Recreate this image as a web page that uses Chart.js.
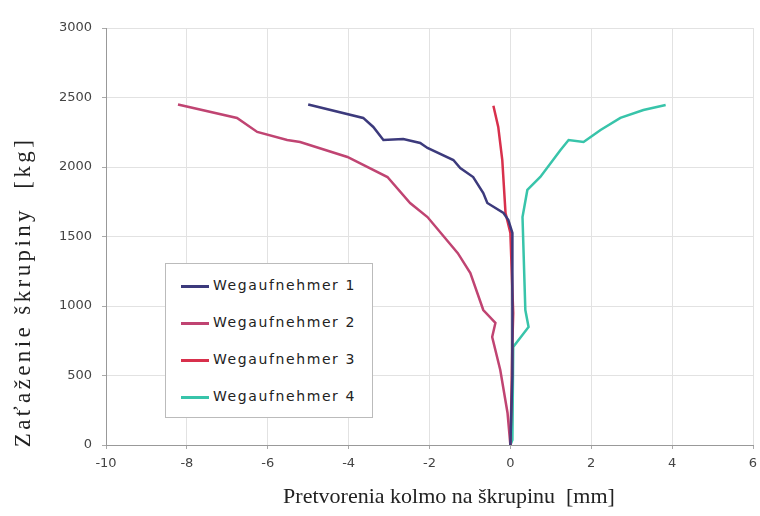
<!DOCTYPE html>
<html>
<head>
<meta charset="utf-8">
<script src="https://cdn.jsdelivr.net/npm/chart.js@4.4.0/dist/chart.umd.min.js"></script>
<style>
  body { margin: 0; background: #fff; }
  #wrap { position: relative; width: 760px; height: 516px; }
  #legend {
    position: absolute; left: 165px; top: 263px; width: 208px; height: 155px;
    background: #fff; border: 1px solid #bbb; box-sizing: border-box;
    font-family: "DejaVu Sans", sans-serif; font-size: 14px; letter-spacing: 1.6px; color: #222;
    padding-top: 13px;
  }
  .item { height: 37px; display: flex; align-items: flex-start; padding-left: 15px; }
  .swatch { width: 28px; height: 3px; margin-top: 8px; margin-right: 4px; }
</style>
</head>
<body>
<div id="wrap">
  <canvas id="chart" width="760" height="516"></canvas>
  <div id="legend"></div>
</div>
<script>
// Wegaufnehmer 1
const s1x = [0, 0.05, 0.05, 0.05, -0.05, -0.17, -0.57, -0.67, -0.92, -1.24, -1.41, -2.05, -2.23, -2.65, -3.14, -3.39, -3.64, -5.0];
const s1y = [0, 500, 1000, 1525, 1619, 1669, 1741, 1813, 1928, 1993, 2050, 2137, 2173, 2201, 2194, 2288, 2353, 2450];
// Wegaufnehmer 2
const s2x = [0, -0.07, -0.25, -0.45, -0.37, -0.67, -0.99, -1.3, -2.05, -2.48, -3.04, -4.03, -5.2, -5.52, -6.26, -6.76, -8.22];
const s2y = [0, 230, 540, 777, 878, 971, 1237, 1380, 1640, 1741, 1928, 2072, 2180, 2194, 2252, 2353, 2450];
// Wegaufnehmer 3
const s3x = [0, 0.03, 0.05, 0.07, 0, -0.12, -0.2, -0.3, -0.42];
const s3y = [0, 400, 734, 950, 1525, 1669, 2050, 2288, 2440];
// Wegaufnehmer 4
const s4x = [0, 0.05, 0.07, 0.45, 0.37, 0.3, 0.42, 0.74, 1.24, 1.44, 1.81, 2.23, 2.72, 3.29, 3.84];
const s4y = [0, 36, 705, 849, 971, 1640, 1835, 1928, 2122, 2194, 2180, 2266, 2353, 2410, 2446];

const names = ['Wegaufnehmer 1', 'Wegaufnehmer 2', 'Wegaufnehmer 3', 'Wegaufnehmer 4'];
const colors = ['#3c3a7c', '#c04472', '#d8304c', '#38c4aa'];
const xTicks = [-10, -8, -6, -4, -2, 0, 2, 4, 6];
const yTicks = [0, 500, 1000, 1500, 2000, 2500, 3000];
const xTitle = 'Pretvorenia kolmo na škrupinu  [mm]';
const yTitle = 'Zaťaženie škrupiny  [kg]';

function zip(xs, ys) {
    return xs.map((x, i) => ({ x: x, y: ys[i] }));
}

const series = [zip(s1x, s1y), zip(s2x, s2y), zip(s3x, s3y), zip(s4x, s4y)];

const legendBox = document.getElementById('legend');
names.forEach((n, i) => {
    legendBox.innerHTML += '<div class="item"><div class="swatch" style="background:' + colors[i] + '"></div>' + n + '</div>';
});

// axis titles drawn by hand, the original has them off-centre
const titlesPlugin = {
    id: 'titles',
    afterDraw(chart) {
        const c = chart.ctx;
        c.save();
        c.fillStyle = '#222';
        c.textAlign = 'center';
        c.textBaseline = 'middle';
        c.font = '22px "Liberation Serif"';
        c.letterSpacing = '0px';
        c.fillText(xTitle, 449, 497);
        c.translate(24, 292);
        c.rotate(-Math.PI / 2);
        c.font = '23px "Liberation Serif"';
        c.letterSpacing = '3.4px';
        c.fillText(yTitle, 0, 0);
        c.restore();
    }
};

const ctx = document.getElementById('chart').getContext('2d');
new Chart(ctx, {
    type: 'scatter',
    data: {
        datasets: series.map((d, i) => ({
            label: names[i],
            data: d,
            showLine: true,
            borderColor: colors[i],
            backgroundColor: colors[i],
            borderWidth: 2.5,
            pointRadius: 0,
            tension: 0
        }))
    },
    plugins: [titlesPlugin],
    options: {
        responsive: false,
        animation: false,
        layout: { padding: { top: 28, right: 7, left: 0, bottom: 0 } },
        plugins: { legend: { display: false }, tooltip: { enabled: false } },
        scales: {
            x: {
                type: 'linear',
                min: -10, max: 6,
                afterBuildTicks: s => { s.ticks = xTicks.map(v => ({ value: v })); },
                afterFit: s => { s.height = 71; s.paddingLeft = 0; s.paddingRight = 0; },
                grid: { color: '#e2e2e2', tickLength: 4, tickColor: '#aaa' },
                border: { color: '#999' },
                ticks: { color: '#444', font: { family: 'DejaVu Sans', size: 13 }, padding: 7, callback: v => String(v) },
                title: { display: false }
            },
            y: {
                type: 'linear',
                min: 0, max: 3000,
                afterBuildTicks: s => { s.ticks = yTicks.map(v => ({ value: v })); },
                afterFit: s => { s.width = 106; s.paddingTop = 0; s.paddingBottom = 0; },
                grid: { color: '#e2e2e2', tickLength: 4, tickColor: '#aaa' },
                border: { color: '#999' },
                ticks: { color: '#444', font: { family: 'DejaVu Sans', size: 13 }, padding: 10, callback: v => String(v) },
                title: { display: false }
            }
        }
    }
});
</script>
</body>
</html>
